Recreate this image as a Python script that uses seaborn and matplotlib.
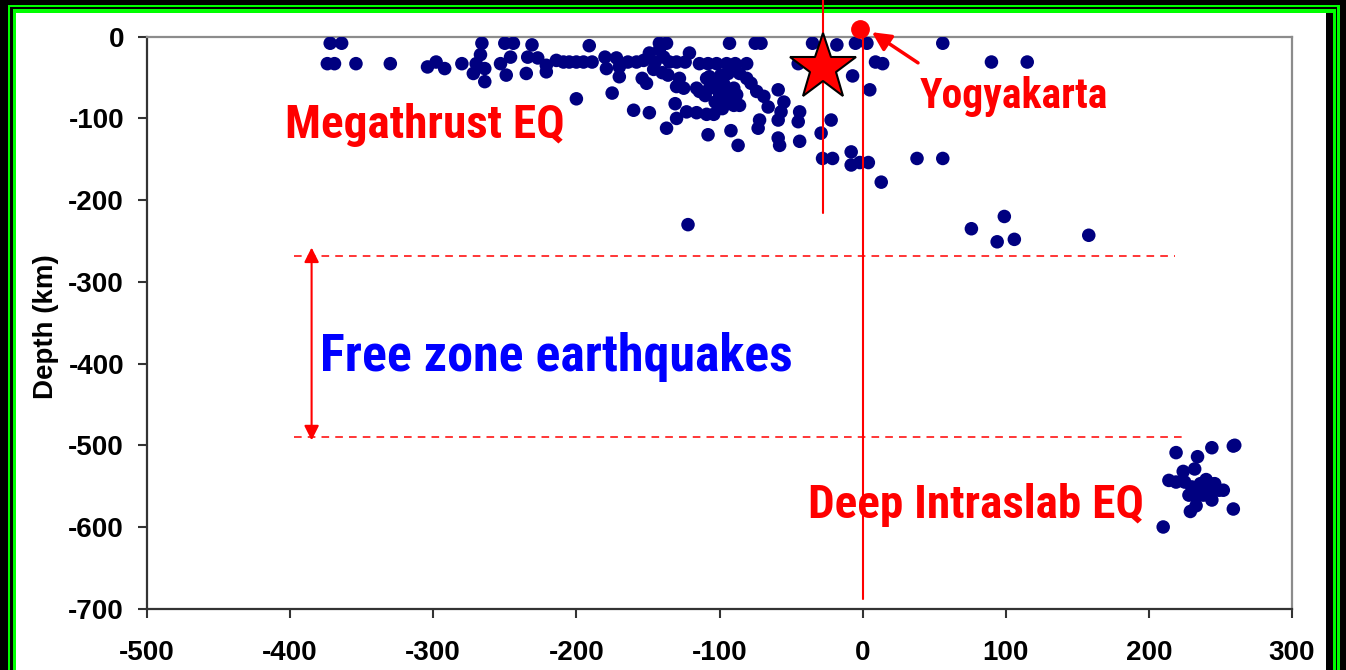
import matplotlib
matplotlib.use("Agg")
import matplotlib.pyplot as plt
from matplotlib.patches import Rectangle
import seaborn as sns
import pandas as pd

# Hypocentres: horizontal distance (km) and depth (km)
dist_km = [
    -372, -364, -374, -369, -354, -330, -304, -298, -292, -280, -272, -266, -267, -270,
    -264, -264, -253, -250, -244, -246, -249, -235, -231, -234, -227, -221, -221, -214,
    -191, -142, -137, -93, -75, -71,
    -209, -205, -200, -195, -189,
    -180, -179, -172, -170, -170, -164, -158, -153, -149, -145, -142, -139, -135, -130,
    -124, -121, -114, -108, -102, -95, -89, -81,
    -154, -151, -136, -128, -130, -125, -109, -107, -102, -99, -94, -86, -81, -78,
    -116, -114, -107, -100, -95, -90, -88, -74, -69, -59, -55,
    -200, -175, -131, -96, -90, -86, -66, -57,
    -160, -149, -130, -123, -116, -109, -104, -72, -59,
    -137, -92, -108, -73, -59, -87, -58,
    -105, -100, -97, -93, -110, -103, -98, -146, -140,
    -35, -18, -5, 3, 56, -45, 9, 14, 90, 115, -7, 5,
    -44, -45, -22, -29, -44, -28, -21, -8, -8, -2, 4, 13, 38, 56,
    -122, 76, 99, 94, 106, 158,
    219, 234, 244, 259, 214, 224, 232, 243, 252, 225, 230, 236, 240, 246,
    233, 238, 244, 233, 229, 259, 260, 210, 228, 249, 219, 236, 241,
]
depth_km = [
    -8, -8, -33, -33, -33, -33, -37, -31, -39, -33, -45, -8, -22, -33,
    -39, -55, -33, -8, -8, -25, -47, -45, -10, -25, -26, -35, -43, -29,
    -11, -8, -8, -8, -8, -8,
    -31, -31, -31, -31, -31,
    -25, -39, -26, -37, -49, -31, -31, -29, -20, -31, -16, -25, -31, -31,
    -31, -20, -33, -33, -33, -33, -33, -33,
    -51, -57, -47, -51, -61, -63, -51, -49, -55, -47, -45, -45, -51, -57,
    -63, -67, -63, -63, -67, -63, -71, -67, -73, -65, -80,
    -76, -69, -82, -78, -84, -84, -86, -92,
    -90, -93, -100, -92, -93, -95, -95, -102, -102,
    -112, -115, -120, -112, -124, -133, -133,
    -60, -70, -58, -75, -72, -80, -88, -40, -44,
    -8, -10, -8, -8, -8, -33, -31, -33, -31, -31, -48, -65,
    -92, -104, -102, -118, -128, -149, -149, -141, -157, -154, -154, -178, -149, -149,
    -230, -235, -220, -251, -248, -243,
    -509, -514, -503, -501, -543, -532, -529, -547, -555, -545, -551, -547, -542, -547,
    -563, -561, -567, -574, -581, -578, -500, -600, -561, -555, -545, -553, -558,
]

# Mainshock (star) and the city of Yogyakarta
main_x, main_depth = -28, -38
city_x, city_y = -2, 9

# Depth band free of earthquakes
gap_top, gap_bottom = -268, -490

x_ticks = [-500, -400, -300, -200, -100, 0, 100, 200, 300]
y_ticks = [0, -100, -200, -300, -400, -500, -600, -700]

W, H, DPI = 1346, 670, 100

sns.set_style("white")
plt.rcParams["font.family"] = ["Liberation Sans", "DejaVu Sans"]
plt.rcParams["axes.unicode_minus"] = False
plt.rcParams["text.color"] = "black"
plt.rcParams["axes.labelcolor"] = "black"
plt.rcParams["xtick.color"] = "black"
plt.rcParams["ytick.color"] = "black"

fig = plt.figure(figsize=(W / DPI, H / DPI), dpi=DPI, facecolor="black")


def frame_rect(x0, y0, x1, y1, color):
    fig.add_artist(Rectangle((x0 / W, 1 - y1 / H), (x1 - x0) / W, (y1 - y0) / H,
                             transform=fig.transFigure, facecolor=color,
                             edgecolor="none", zorder=-10))


# Double green border on black, white slide area
frame_rect(8.3, 5.0, 1340.0, 680, "#00FF00")
frame_rect(10.0, 7.3, 1337.3, 680, "black")
frame_rect(12.7, 9.3, 1336.0, 680, "#00FF00")
frame_rect(16.0, 12.7, 1332.7, 680, "black")
frame_rect(16.0, 12.7, 1326.0, 680, "white")

ax = fig.add_axes([147 / W, 1 - 608.7 / H, 1145 / W, 572 / H])
ax.set_facecolor("white")

df = pd.DataFrame({"dist": dist_km, "depth": depth_km})
sns.scatterplot(data=df, x="dist", y="depth", color="#000080", s=95,
                edgecolor="none", linewidth=0, ax=ax, zorder=3)

ax.set_xlim(-500, 300)
ax.set_ylim(-700, 0)
ax.set_xticks(x_ticks)
ax.set_yticks(y_ticks)
ax.set_xticklabels([str(v) for v in x_ticks], fontsize=20, fontweight="bold",
                   color="black")
ax.set_yticklabels([str(v) for v in y_ticks], fontsize=20, fontweight="bold",
                   color="black")
ax.tick_params(axis="both", bottom=True, left=True, direction="out",
               length=6.5, width=1.5, color="#333333")
ax.tick_params(axis="x", pad=16)
ax.tick_params(axis="y", pad=10)
ax.set_xlabel("")
ax.set_ylabel("Depth (km)", fontsize=20, fontweight="bold", color="black")
ax.yaxis.set_label_coords(-0.0765, 0.493)

for side in ("left", "bottom"):
    ax.spines[side].set_color("#333333")
    ax.spines[side].set_linewidth(1.6)
for side in ("top", "right"):
    ax.spines[side].set_color("#8c8c8c")
    ax.spines[side].set_linewidth(1.6)

red = "#FF0000"
narrow = ["Roboto Condensed", "Liberation Sans", "DejaVu Sans"]

# Vertical section lines through the mainshock and Yogyakarta
ax.plot([main_x, main_x], [45, -216], color=red, lw=1.5, clip_on=False, zorder=4)
ax.plot([0, 0], [city_y, -688], color=red, lw=1.5, clip_on=False, zorder=4)

ax.plot([main_x], [main_depth], marker="*", ms=50, color=red,
        markeredgecolor="black", markeredgewidth=1.5, clip_on=False, zorder=6)
ax.plot([city_x], [city_y], marker="o", ms=12.5, color=red,
        markeredgecolor=red, clip_on=False, zorder=6)

ax.annotate("", xy=(6.5, 5.5), xytext=(38.7, -32),
            arrowprops=dict(arrowstyle="-|>", color=red, lw=2.5,
                            mutation_scale=28, shrinkA=0, shrinkB=0),
            annotation_clip=False, zorder=6)

# Boundaries of the earthquake-free zone
ax.plot([-397, 218], [gap_top, gap_top], color=red, lw=1.1,
        linestyle=(0, (5, 4)), zorder=2)
ax.plot([-397, 225], [gap_bottom, gap_bottom], color=red, lw=1.1,
        linestyle=(0, (5, 4)), zorder=2)
ax.annotate("", xy=(-385, -258), xytext=(-385, -494),
            arrowprops=dict(arrowstyle="<|-|>", color=red, lw=1.5,
                            mutation_scale=22, shrinkA=0, shrinkB=0),
            zorder=5)

ax.text(-403.6, -124, "Megathrust EQ", color=red, fontsize=34, fontweight="bold",
        family=narrow, ha="left", va="baseline", zorder=7)
ax.text(40, -87, "Yogyakarta", color=red, fontsize=30, fontweight="bold",
        family=narrow, ha="left", va="baseline", zorder=7)
ax.text(-379, -409, "Free zone earthquakes", color="#0000FF", fontsize=37.4,
        fontweight="bold", family=narrow, ha="left", va="baseline", zorder=7)
ax.text(-38, -589, "Deep Intraslab EQ", color=red, fontsize=34, fontweight="bold",
        family=narrow, ha="left", va="baseline", zorder=7)

fig.savefig("out.png", dpi=DPI, facecolor=fig.get_facecolor())
